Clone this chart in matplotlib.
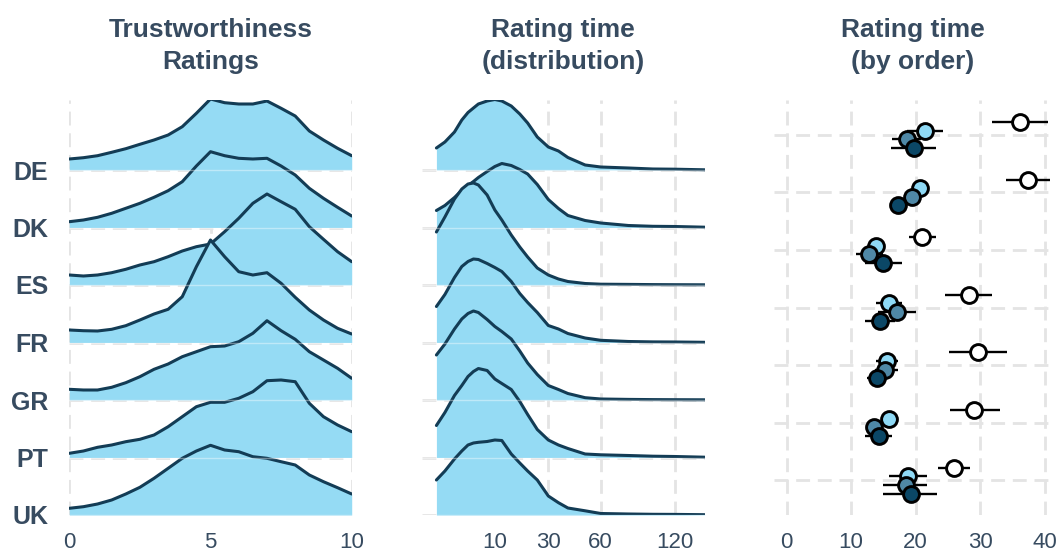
import numpy as np
import matplotlib.pyplot as plt

plt.rcParams["font.family"] = ["Liberation Sans", "DejaVu Sans"]

countries = ["DE", "DK", "ES", "FR", "GR", "PT", "UK"]

# trustworthiness rating densities (0-10 scale), one ridge per country
rating_x = [0, 0.5, 1, 1.5, 2, 2.5, 3, 3.5, 4, 4.5, 5,
            5.5, 6, 6.5, 7, 7.5, 8, 8.5, 9, 9.5, 10]
trust_DE = [11, 12.3, 14.3, 17.7, 21.3, 25.7, 30, 35, 43.3, 56.7, 71,
            67.3, 66, 66, 69, 61.7, 54, 39, 30, 21.7, 14.3]
trust_DK = [5.8, 7.5, 10.2, 14.2, 19.2, 24.2, 30.2, 36.8, 45.8, 61.5, 75.8,
            71.8, 69.2, 68.5, 69.2, 61.5, 52.5, 39.2, 29.2, 20.2, 11.5]
trust_ES = [10, 9, 10, 12.3, 15.7, 20, 23.3, 28.3, 34, 38.3, 41,
            53.3, 66.7, 81.7, 91, 83.3, 75.7, 58.3, 45.7, 33.3, 23.3]
trust_FR = [12.5, 11.8, 11.5, 13.2, 16.8, 22.5, 28.5, 33.2, 45.8, 75.8, 102.5,
            85.8, 70.8, 67.5, 69.8, 59.2, 45.2, 32.5, 22.5, 14.2, 8.5]
trust_GR = [10.7, 10, 10, 12.7, 17.3, 23.3, 30.7, 36, 43.3, 48.3, 53.3,
            54, 58.3, 66.7, 79.3, 69.3, 60.7, 48.3, 40, 31.7, 21.7]
trust_PT = [4.2, 6.5, 10.2, 12.5, 15.8, 18.2, 22.5, 30.8, 40.8, 50.8, 55.2,
            55.2, 59.2, 65.8, 76.8, 77.5, 75.8, 54.2, 40.8, 32.5, 25.8]
trust_UK = [6.7, 8.3, 11, 15, 21, 27.7, 36.7, 46.7, 56.7, 64, 69.7,
            65, 63.3, 58.3, 56.7, 53.3, 50, 40, 33.3, 27.3, 21]

# rating time densities (seconds, sqrt axis)
time_x = [0.4, 1, 2, 3, 4, 5, 6, 8, 10, 12, 15, 18, 21, 25, 30,
          35, 40, 50, 60, 80, 100, 120, 150]
time_DE = [22, 28, 38, 50, 57.5, 62, 66, 69, 70.5, 69, 64, 56, 47, 33, 23,
           19, 12.5, 5, 3, 2, 1, 0.8, 0.2]
time_DK = [17, 22, 30, 37, 42, 46, 50, 56, 61, 64, 62, 58, 53.5, 43, 28,
           19, 12, 7, 4.5, 2, 1.2, 1, 0.3]
time_ES = [53, 68, 86, 96, 101, 102, 100, 90, 75, 65, 50, 38, 28, 17, 10,
           6, 3.5, 1.5, 0.8, 0.6, 0.4, 0.3, 0.2]
time_FR = [36, 48, 65, 76, 81, 83.5, 83, 79, 75, 71, 61, 49, 40, 30, 17,
           13.5, 9, 4.5, 2.2, 1, 0.6, 0.5, 0.2]
time_GR = [45, 56, 71, 81, 86.5, 89, 87.5, 80.5, 73.5, 68.5, 61, 49, 37, 25.5, 14.5,
           10.5, 6.5, 2.3, 1, 0.6, 0.4, 0.3, 0.2]
time_PT = [32, 45, 62, 72, 81, 86, 89, 87, 78.5, 74, 68, 56, 43, 28, 17.5,
           12.5, 9, 3.5, 2.7, 2, 1.3, 1, 0.3]
time_UK = [35, 44, 56, 64, 70, 72, 72.7, 73.5, 75, 74.5, 61, 52, 44, 35, 19,
           12.3, 7, 4.2, 1.5, 1, 0.7, 0.6, 0.3]

# mean rating time by presentation order (DE ... UK) with interval ends
order1_mean = [36.1, 37.4, 20.9, 28.3, 29.7, 29.0, 25.9]
order1_lo = [31.9, 34.0, 18.9, 24.6, 25.2, 25.3, 23.5]
order1_hi = [40.5, 40.8, 23.1, 31.9, 34.2, 33.0, 28.4]
order2_mean = [21.4, 20.7, 13.8, 15.8, 15.6, 15.9, 18.8]
order2_lo = [18.6, 19.5, 12.8, 13.8, 13.9, 14.7, 15.8]
order2_hi = [24.3, 21.9, 14.8, 17.8, 17.3, 17.1, 21.8]
order3_mean = [18.6, 19.4, 12.8, 17.1, 15.2, 13.5, 18.5]
order3_lo = [16.4, 18.3, 10.7, 14.2, 13.7, 12.3, 15.0]
order3_hi = [20.8, 20.5, 14.9, 20.0, 17.2, 14.7, 21.7]
order4_mean = [19.7, 17.2, 15.0, 14.5, 14.0, 14.3, 19.2]
order4_lo = [16.2, 16.0, 12.2, 12.2, 12.4, 12.2, 14.9]
order4_hi = [23.1, 18.4, 17.8, 16.8, 15.6, 16.3, 23.3]

TEXT = "#374b60"
FILL = "#95dbf4"
LINE = "#133c55"
GRID = "#e4e4e4"
ORDER_COLORS = ["#ffffff", "#8fd9f5", "#4f88a6", "#0b4766"]
ORDER_OFFSETS = [0.22, 0.07, -0.08, -0.23]
RIDGE_PX = 57.5  # pixels per category step

W, H = 1058, 558
fig = plt.figure(figsize=(W / 100, H / 100), dpi=100)


def px_axes(x0, x1, y0, y1):
    return fig.add_axes([x0 / W, 1 - y1 / H, (x1 - x0) / W, (y1 - y0) / H])


ax1 = px_axes(69.3, 351.7, 100, 515)
ax2 = px_axes(421.8, 704.7, 100, 515)
ax3 = px_axes(774.4, 1051.2, 100, 515)

n = len(countries)
base = np.arange(n, 0, -1)


def ridges(ax, x, curves):
    for i, dens in enumerate(curves):
        top = base[i] + np.asarray(dens) / RIDGE_PX
        z = 2 + 2 * i
        ax.fill_between(x, base[i], top, color=FILL, lw=0, zorder=z)
        ax.plot(x, top, color=LINE, lw=2.2, zorder=z + 1,
                solid_joinstyle="round", solid_capstyle="round")
    # faint seam along each baseline
    for b in base:
        ax.axhline(b, color="white", alpha=0.4, lw=1.0, zorder=2 * n + 2)


ridges(ax1, rating_x, [trust_DE, trust_DK, trust_ES, trust_FR,
                       trust_GR, trust_PT, trust_UK])
ridges(ax2, time_x, [time_DE, time_DK, time_ES, time_FR,
                     time_GR, time_PT, time_UK])

ax1.set_xlim(0, 10)
ax1.set_xticks([0, 5, 10])
ax1.set_ylim(1, 1 + 415 / RIDGE_PX)
ax1.set_yticks(base)
ax1.set_yticklabels(countries, fontsize=18, fontweight="bold", color=TEXT)

ax2.set_xscale("function", functions=(np.sqrt, np.square))
ax2.set_xlim(0, 150)
ax2.set_xticks([10, 30, 60, 120])
ax2.set_xticklabels(["10", "30", "60", "120"])
ax2.set_ylim(1, 1 + 415 / RIDGE_PX)
ax2.set_yticks(base)
ax2.set_yticklabels([])

# rating time by order: interval bars first, then points
means = [order1_mean, order2_mean, order3_mean, order4_mean]
los = [order1_lo, order2_lo, order3_lo, order4_lo]
his = [order1_hi, order2_hi, order3_hi, order4_hi]
for lo, hi, off in zip(los, his, ORDER_OFFSETS):
    ax3.hlines(base + off, lo, hi, color="black", lw=1.7, zorder=3)
for m, col, off in zip(means, ORDER_COLORS, ORDER_OFFSETS):
    ax3.plot(m, base + off, "o", ms=11.4, mfc=col, mec="black", mew=2.1,
             ls="none", zorder=4)

ax3.set_xlim(-1.9, 41.0)
ax3.set_xticks([0, 10, 20, 30, 40])
ax3.set_ylim(0.4, 7.6)
ax3.set_yticks(base)
ax3.set_yticklabels([])

titles = ["Trustworthiness\nRatings", "Rating time\n(distribution)",
          "Rating time\n(by order)"]
for ax, title in zip([ax1, ax2, ax3], titles):
    ax.set_title(title, fontsize=19, fontweight="bold", color=TEXT,
                 pad=22, linespacing=1.45)
    for s in ax.spines.values():
        s.set_visible(False)
    ax.set_axisbelow(True)
    ax.grid(True, color=GRID, lw=2.0, ls=(0, (5, 2.8)))
    ax.tick_params(axis="x", length=0, pad=12.5, labelsize=16, labelcolor=TEXT)
    ax.tick_params(axis="y", length=0, pad=15)

fig.savefig("out.png", dpi=100, facecolor="white")
